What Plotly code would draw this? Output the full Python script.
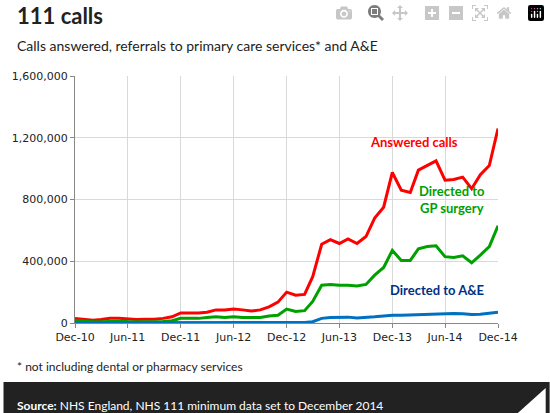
import plotly.graph_objects as go
import pandas as pd

months = pd.date_range("2010-12-01", "2014-12-01", freq="MS")

answered = [30,
            25, 18, 22, 30, 30, 25, 22, 25, 25, 30, 40, 65,
            65, 65, 70, 85, 85, 90, 85, 78, 85, 105, 135, 200,
            180, 185, 300, 510, 540, 515, 545, 515, 560, 680, 750, 975,
            860, 845, 990, 1020, 1050, 925, 930, 945, 870, 960, 1020, 1260]
gp_surgery = [15,
              10, 8, 8, 12, 12, 10, 8, 10, 8, 10, 15, 30,
              30, 30, 35, 40, 35, 40, 35, 35, 35, 45, 50, 90,
              75, 80, 140, 245, 250, 245, 245, 240, 250, 310, 360, 470,
              405, 405, 480, 495, 500, 430, 425, 435, 390, 440, 495, 630]
a_and_e = [2,
           2, 2, 2, 2, 2, 2, 2, 2, 2, 2, 2, 2,
           2, 2, 2, 2, 2, 2, 2, 2, 2, 2, 3, 4,
           3, 3, 8, 30, 35, 35, 38, 33, 35, 40, 45, 50,
           50, 52, 55, 57, 60, 60, 62, 60, 55, 57, 62, 70]

tick_dates = pd.date_range("2010-12-01", "2014-12-01", freq="6MS")
tick_labels = [d.strftime("%b-%y") for d in tick_dates]
y_ticks = [0, 400000, 800000, 1200000, 1600000]

W, H = 550, 413
L, R, T, B = 72, 498, 76, 323


def px(x, y):
    return (x - L) / (R - L), (B - y) / (B - T)


fig = go.Figure()
for vals, col in [(answered, "#ff0000"), (gp_surgery, "#00a000"), (a_and_e, "#0070c0")]:
    fig.add_trace(go.Scatter(x=months, y=[v * 1000 for v in vals], mode="lines",
                             line=dict(color=col, width=3), hoverinfo="skip"))

labels = [("Answered calls", "#ff0000", 460, 142),
          ("Directed to<br>GP surgery", "#00a000", 487, 199),
          ("Directed to A&E", "#002f87", 486, 290)]
anns = []
for text, col, x, y in labels:
    px_x, px_y = px(x, y)
    anns.append(dict(text="<b>" + text + "</b>", x=px_x, y=px_y, xref="paper", yref="paper",
                     xanchor="right", yanchor="middle", showarrow=False, align="center",
                     font=dict(size=13, color=col, family="Lato")))

x0, y0 = px(12, 16)
anns.append(dict(text="<b>111 calls</b>", x=x0, y=y0, xref="paper", yref="paper", xanchor="left",
                 yanchor="middle", showarrow=False, font=dict(size=22, color="#222", family="Lato")))
x0, y0 = px(12, 46)
anns.append(dict(text="Calls answered, referrals to primary care services* and A&E", x=x0, y=y0,
                 xref="paper", yref="paper", xanchor="left", yanchor="middle", showarrow=False,
                 font=dict(size=14, color="#222", family="Lato")))
x0, y0 = px(12, 366)
anns.append(dict(text="* not including dental or pharmacy services", x=x0, y=y0,
                 xref="paper", yref="paper", xanchor="left", yanchor="middle", showarrow=False,
                 font=dict(size=12, color="#222", family="Lato")))
x0, y0 = px(12, 405)
anns.append(dict(text="<b>Source:</b> NHS England, NHS 111 minimum data set to December 2014", x=x0, y=y0,
                 xref="paper", yref="paper", xanchor="left", yanchor="middle", showarrow=False,
                 font=dict(size=12, color="white", family="Lato")))

fx0, fy0 = px(0, 382)
fx1, fy1 = px(W, H)
ta = px(518, 413); tb = px(546, 413); tc = px(546, 388)
shapes = [
    dict(type="rect", xref="paper", yref="paper", x0=fx0, y0=fy0, x1=fx1, y1=fy1,
         fillcolor="#222222", line=dict(width=0), layer="below"),
    dict(type="path", xref="paper", yref="paper",
         path=f"M {ta[0]} {ta[1]} L {tb[0]} {tb[1]} L {tc[0]} {tc[1]} Z",
         fillcolor="white", line=dict(width=0)),
]

fig.update_layout(
    width=W, height=H, showlegend=False,
    margin=dict(l=L, r=W - R, t=T, b=H - B),
    paper_bgcolor="white", plot_bgcolor="white",
    font=dict(family="DejaVu Sans", size=11, color="#222"),
    annotations=anns, shapes=shapes,
    xaxis=dict(range=[months[0], months[-1]], tickvals=tick_dates, ticktext=tick_labels,
               showgrid=True, gridcolor="#d9d9d9", showline=True, linecolor="#888",
               ticks="outside", ticklen=4, tickcolor="#888", zeroline=False,
               tickfont=dict(size=11)),
    yaxis=dict(range=[0, 1600000], tickvals=y_ticks, ticktext=[f"{v:,}" for v in y_ticks],
               showgrid=True, gridcolor="#d9d9d9", showline=True, linecolor="#888",
               ticks="outside", ticklen=4, tickcolor="#888", zeroline=False,
               tickfont=dict(size=11)),
)

fig.write_html("out.html", post_script="document.body.style.margin='0';")
